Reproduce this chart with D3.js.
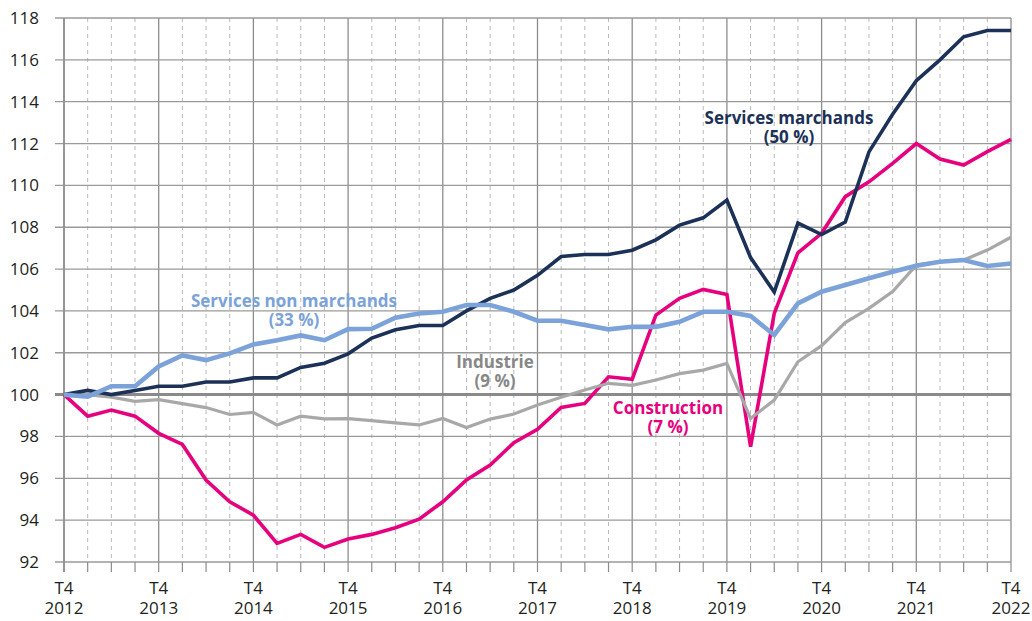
<!DOCTYPE html>
<html><head><meta charset="utf-8">
<script src="https://cdn.jsdelivr.net/npm/d3@7"></script>
<style>
html,body{margin:0;padding:0;background:#fff;}
svg{display:block;font-family:"Open Sans",sans-serif;}
</style></head>
<body><svg id="c" width="1032" height="621"></svg>
<script>
// Quarters T4 2012 .. T4 2022
const years = [2012,2013,2014,2015,2016,2017,2018,2019,2020,2021,2022];
const quarters = [];
years.forEach((y,i)=>{ if(i===0){quarters.push("T4 "+y);} else {["T1","T2","T3","T4"].forEach(q=>quarters.push(q+" "+y));} });
const yTicks = [92,94,96,98,100,102,104,106,108,110,112,114,116,118];

const servicesMarchands = [100,100.2,100.0,100.2,100.4,100.4,100.6,100.6,100.8,100.8,101.3,101.5,101.95,102.7,103.1,103.3,103.3,104.0,104.6,105.0,105.7,106.6,106.7,106.7,106.9,107.4,108.1,108.45,109.3,106.55,104.9,108.2,107.65,108.25,111.6,113.4,115.0,116.0,117.1,117.4,117.4];
const servicesNonMarchands = [100,99.9,100.4,100.4,101.35,101.87,101.65,101.97,102.4,102.6,102.83,102.6,103.13,103.15,103.68,103.88,103.96,104.28,104.28,103.96,103.53,103.53,103.33,103.12,103.24,103.24,103.48,103.96,103.96,103.76,102.85,104.36,104.92,105.24,105.56,105.87,106.16,106.35,106.43,106.15,106.27];
const industrie = [100,100.0,99.88,99.68,99.76,99.57,99.38,99.05,99.15,98.55,98.97,98.84,98.85,98.76,98.65,98.55,98.86,98.43,98.83,99.07,99.5,99.87,100.22,100.54,100.44,100.7,101.0,101.17,101.49,98.86,99.74,101.57,102.34,103.44,104.12,104.92,106.19,106.35,106.43,106.91,107.52];
const construction = [100,98.97,99.26,98.97,98.15,97.62,95.92,94.88,94.24,92.89,93.32,92.7,93.1,93.32,93.64,94.05,94.88,95.92,96.63,97.7,98.34,99.39,99.58,100.85,100.73,103.8,104.6,105.03,104.79,97.51,103.88,106.78,107.71,109.46,110.17,111.05,112.0,111.26,110.97,111.61,112.2];

const series = [
  {name:"Construction", share:"(7 %)", values:construction, color:"#e6007e", label:"#e6007e", width:3.6, lx:668, ly:414},
  {name:"Industrie", share:"(9 %)", values:industrie, color:"#a8a8a8", label:"#878787", width:3.2, lx:495, ly:368},
  {name:"Services marchands", share:"(50 %)", values:servicesMarchands, color:"#1b3157", label:"#1b3157", width:3.6, lx:789, ly:124},
  {name:"Services non marchands", share:"(33 %)", values:servicesNonMarchands, color:"#7ba2d9", label:"#7ba2d9", width:4.6, lx:294, ly:307}
];

const svg = d3.select("#c");
const L=64, R=1011, T=18, B=562;
const x = d3.scalePoint().domain(quarters).range([L,R]);
const y = d3.scaleLinear().domain([92,118]).range([B,T]);

// vertical grid
const g = svg.append("g");
quarters.forEach(q=>{
  const isT4 = q.startsWith("T4");
  g.append("line").attr("x1",x(q)).attr("x2",x(q)).attr("y1",T).attr("y2",B)
    .attr("stroke", isT4 ? "#8c8c8c" : "#b8b8b8")
    .attr("stroke-width", isT4 ? 1.3 : 1)
    .attr("stroke-dasharray", isT4 ? null : "4,4");
});
// horizontal grid
yTicks.forEach(v=>{
  g.append("line").attr("x1",L-9).attr("x2",R).attr("y1",y(v)).attr("y2",y(v))
    .attr("stroke", v===100 ? "#8a8a8a" : "#9a9a9a")
    .attr("stroke-width", v===100 ? 3 : 1.3);
});
// left axis line + bottom ticks
g.append("line").attr("x1",L).attr("x2",L).attr("y1",T).attr("y2",B+10).attr("stroke","#8c8c8c").attr("stroke-width",1.5);
quarters.forEach(q=>{
  g.append("line").attr("x1",x(q)).attr("x2",x(q)).attr("y1",B).attr("y2",B+10).attr("stroke","#8c8c8c").attr("stroke-width",1.2);
});

// y labels
yTicks.forEach(v=>{
  svg.append("text").attr("x",39).attr("y",y(v)+6).attr("text-anchor","end")
    .attr("font-size",17).attr("fill","#231f20").text(v);
});
// x labels
quarters.filter(q=>q.startsWith("T4")).forEach(q=>{
  const [qq,yr]=q.split(" ");
  svg.append("text").attr("text-anchor","middle").attr("font-size",17).attr("fill","#231f20")
    .attr("x",x(q)).attr("y",594).text(qq);
  svg.append("text").attr("text-anchor","middle").attr("font-size",17).attr("fill","#231f20")
    .attr("x",x(q)).attr("y",614).text(yr);
});

// lines
const line = d3.line().x((d,i)=>x(quarters[i])).y(d=>y(d));
series.forEach(s=>{
  svg.append("path").datum(s.values).attr("d",line).attr("fill","none")
    .attr("stroke",s.color).attr("stroke-width",s.width).attr("stroke-linejoin","miter");
});
// labels
series.forEach(s=>{
  svg.append("text").attr("text-anchor","middle").attr("font-size",17).attr("font-weight","bold").attr("fill",s.label)
    .attr("x",s.lx).attr("y",s.ly).text(s.name);
  svg.append("text").attr("text-anchor","middle").attr("font-size",17).attr("font-weight","bold").attr("fill",s.label)
    .attr("x",s.lx).attr("y",s.ly+19).text(s.share);
});
</script>
</body></html>
